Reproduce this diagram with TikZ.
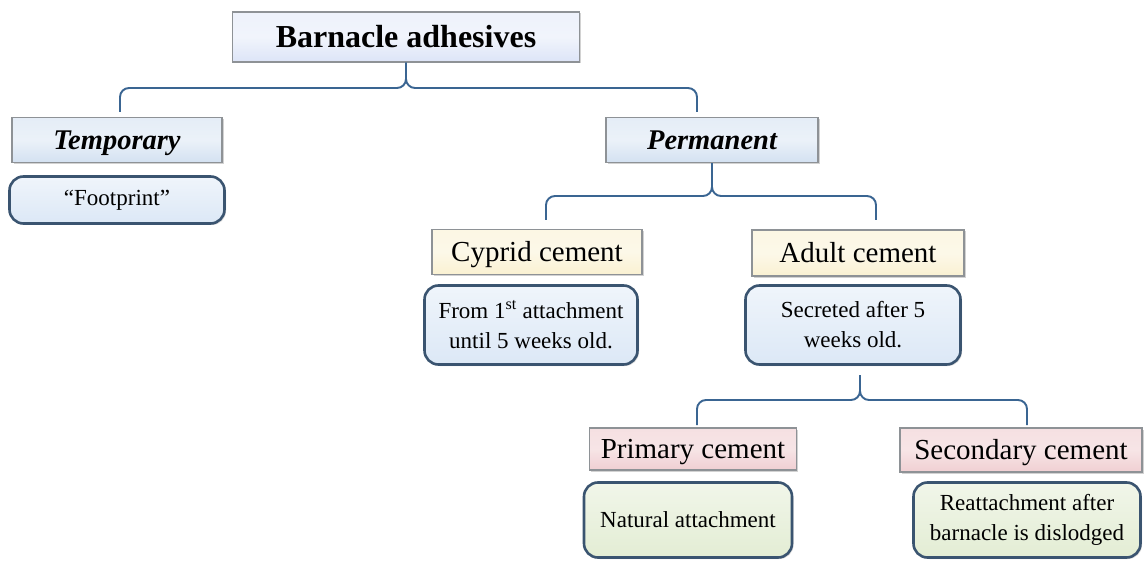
\documentclass[tikz,border=0pt]{standalone}
\usepackage{fontspec}
\setmainfont{Liberation Serif}
\usetikzlibrary{shadows}
\definecolor{bracecol}{HTML}{3A6592}
\definecolor{hdrblue}{HTML}{D3E1F1}
\definecolor{titleblue}{HTML}{DCE4F7}
\definecolor{cream}{HTML}{FAF1D2}
\definecolor{pinkc}{HTML}{F0CFD2}
\definecolor{bodyblue}{HTML}{DCE8F6}
\definecolor{bodygreen}{HTML}{E3EDD4}
\definecolor{bodyline}{HTML}{3A5470}
\definecolor{hdrline}{HTML}{8E9296}
\tikzset{
  hdr/.style={draw=hdrline, line width=1.4pt, inner sep=0pt, align=center,
    text height=20pt, text depth=1.5pt,
    drop shadow={shadow xshift=1.5pt, shadow yshift=-1.5pt, opacity=0.35}},
  hdrb/.style={hdr, top color=hdrblue!60, bottom color=hdrblue, middle color=hdrblue!45,
    font=\fontsize{28.5}{32}\selectfont\bfseries\itshape},
  hdrtitle/.style={hdr, top color=titleblue!50, bottom color=titleblue, middle color=titleblue!40,
    text height=22pt, text depth=1pt,
    font=\fontsize{32}{36}\selectfont\bfseries},
  hdrc/.style={hdr, top color=cream!60, bottom color=cream, middle color=cream!50,
    font=\fontsize{29}{32}\selectfont},
  hdrp/.style={hdr, top color=pinkc!65, bottom color=pinkc, middle color=pinkc!55,
    font=\fontsize{29}{32}\selectfont},
  body/.style={draw=bodyline, line width=2.6pt, rounded corners=14pt, inner sep=0pt,
    align=center, font=\fontsize{23}{30}\selectfont,
    drop shadow={shadow xshift=1.5pt, shadow yshift=-1.5pt, opacity=0.3}},
  bodyb/.style={body, top color=bodyblue!45, bottom color=bodyblue},
  bodyg/.style={body, top color=bodygreen!50, bottom color=bodygreen},
  brace/.style={draw=bracecol, line width=1.9pt, rounded corners=9pt},
}
\begin{document}
\begin{tikzpicture}[x=1pt,y=-1pt]
\path[fill=white] (0,0) rectangle (1145,561);
\useasboundingbox (0,0) rectangle (1145,561);

\node[hdrtitle, minimum width=347pt, minimum height=50pt] (title) at (406,37) {Barnacle adhesives};
\node[hdrb, minimum width=210pt, minimum height=45pt] (temp) at (117,140) {Temporary};
\node[bodyb, minimum width=215pt, minimum height=47pt] (foot) at (117,200) {“Footprint”};
\node[hdrb, minimum width=212pt, minimum height=45pt] (perm) at (712,140) {Permanent};
\node[hdrc, minimum width=210pt, minimum height=45pt] (cyp) at (537,252) {Cyprid cement};
\node[hdrc, minimum width=212pt, minimum height=46pt] (adult) at (858,253) {Adult cement};
\node[bodyb, minimum width=213pt, minimum height=79pt] (from) at (531,325) {From 1\textsuperscript{st} attachment\\until 5 weeks old.};
\node[bodyb, minimum width=215pt, minimum height=79pt] (secr) at (853,325) {Secreted after 5\\weeks old.};
\node[hdrp, minimum width=207pt, minimum height=42pt] (prim) at (693,449) {Primary cement};
\node[hdrp, minimum width=242pt, minimum height=44pt] (sec) at (1021,450) {Secondary cement};
\node[bodyg, minimum width=208pt, minimum height=75pt] (nat) at (688,520) {Natural attachment};
\node[bodyg, minimum width=227pt, minimum height=75pt] (reat) at (1027,520) {Reattachment after\\barnacle is dislodged};

% brace 1
\coordinate (b1m) at (406,88);
\coordinate (b1l) at (120,112);
\coordinate (b1r) at (697,112);
\draw[brace] (b1l) |- (b1m) -- (title.south);
\draw[brace] (b1r) |- (b1m) -- (title.south);
% brace 2
\coordinate (b2m) at (712,196);
\coordinate (b2l) at (546,220);
\coordinate (b2r) at (876,220);
\draw[brace] (b2l) |- (b2m) -- (perm.south);
\draw[brace] (b2r) |- (b2m) -- (perm.south);
% brace 3
\coordinate (b3t) at (860,375);
\coordinate (b3m) at (860,400);
\coordinate (b3l) at (697,425);
\coordinate (b3r) at (1027,425);
\draw[brace] (b3l) |- (b3m) -- (b3t);
\draw[brace] (b3r) |- (b3m) -- (b3t);
\end{tikzpicture}
\end{document}
